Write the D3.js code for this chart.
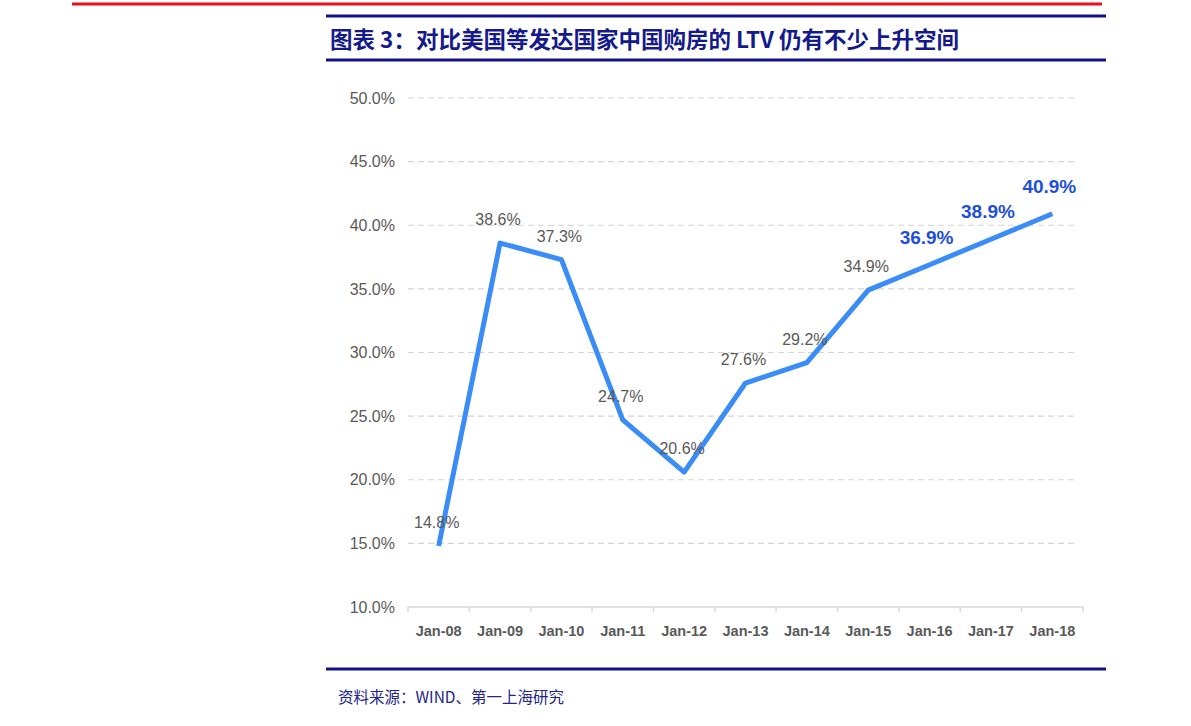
<!DOCTYPE html>
<html>
<head>
<meta charset="utf-8">
<script src="https://cdn.jsdelivr.net/npm/d3@7/dist/d3.min.js"></script>
<style>
  body { margin: 0; background: #fff; }
  svg { display: block; }
</style>
</head>
<body>
<svg id="chart"></svg>
<script>
// data
const categories = ["Jan-08", "Jan-09", "Jan-10", "Jan-11", "Jan-12", "Jan-13", "Jan-14", "Jan-15", "Jan-16", "Jan-17", "Jan-18"];
const ltvValues = [14.8, 38.6, 37.3, 24.7, 20.6, 27.6, 29.2, 34.9, 36.9, 38.9, 40.9];
const forecastFrom = "Jan-16"; // labels from here on are blue + bold
const yTicks = [10, 15, 20, 25, 30, 35, 40, 45, 50];

const titleText = "图表 3：对比美国等发达国家中国购房的 LTV 仍有不少上升空间";
const sourceText = "资料来源：WIND、第一上海研究";

const width = 1191;
const height = 726;
const margin = { top: 98, right: 108, bottom: 119, left: 408 };
const innerWidth = width - margin.left - margin.right;
const innerHeight = height - margin.top - margin.bottom;

const latin = "'Liberation Sans', Arial, sans-serif";
const cjk = "'Noto Sans CJK SC', 'Liberation Sans', sans-serif";

const svg = d3.select("#chart").attr("width", width).attr("height", height);

// header / footer rules
svg.append("line").attr("x1", 72).attr("x2", 1102).attr("y1", 4).attr("y2", 4)
  .attr("stroke", "#e8101f").attr("stroke-width", 3);
[16, 60, 669].forEach((y) => {
  svg.append("line").attr("x1", 326).attr("x2", 1106).attr("y1", y).attr("y2", y)
    .attr("stroke", "#10128a").attr("stroke-width", 3);
});

svg.append("text")
  .attr("x", 330).attr("y", 48)
  .attr("fill", "#141a8c")
  .style("font-family", cjk)
  .style("font-size", "22.5px")
  .style("font-weight", "bold")
  .text(titleText);

svg.append("text")
  .attr("x", 338).attr("y", 703)
  .attr("fill", "#23238a")
  .style("font-family", cjk)
  .style("font-size", "15.5px")
  .text(sourceText);

// scales
const xScale = d3.scaleBand().domain(categories).range([0, innerWidth]);
const yScale = d3.scaleLinear().domain([10, 50]).range([innerHeight, 0]);

const g = svg.append("g").attr("transform", `translate(${margin.left}, ${margin.top})`);

// grid
g.append("g")
  .selectAll("line")
  .data(yTicks.filter((t) => t > 10))
  .join("line")
  .attr("x1", 0).attr("x2", innerWidth - 6)
  .attr("y1", (d) => yScale(d)).attr("y2", (d) => yScale(d))
  .attr("stroke", "#d4d4d4")
  .attr("stroke-width", 1.2)
  .attr("stroke-dasharray", "6,4");

// y axis labels
const yAxis = d3.axisLeft(yScale).tickValues(yTicks)
  .tickFormat((d) => d.toFixed(1) + "%").tickSize(0).tickPadding(13);
const yAxisG = g.append("g").call(yAxis);
yAxisG.select(".domain").remove();
yAxisG.selectAll("text")
  .attr("fill", "#595959")
  .style("font-family", latin)
  .style("font-size", "16px");

// x axis
const xAxisG = g.append("g").attr("transform", `translate(0, ${innerHeight})`);
xAxisG.append("line").attr("x1", 0).attr("x2", innerWidth)
  .attr("stroke", "#d9d9d9").attr("stroke-width", 1.5);
xAxisG.selectAll(".tk")
  .data(categories.map((c) => xScale(c)).concat([innerWidth]))
  .join("line")
  .attr("class", "tk")
  .attr("x1", (d) => d).attr("x2", (d) => d)
  .attr("y1", 0).attr("y2", 5)
  .attr("stroke", "#d9d9d9").attr("stroke-width", 1.5);
xAxisG.selectAll(".lbl")
  .data(categories)
  .join("text")
  .attr("class", "lbl")
  .attr("x", (d) => xScale(d) + xScale.bandwidth() / 2)
  .attr("y", 29)
  .attr("text-anchor", "middle")
  .attr("fill", "#595959")
  .style("font-family", latin)
  .style("font-size", "14.5px")
  .style("font-weight", "bold")
  .text((d) => d);

// line
const points = categories.map((c, i) => ({ cat: c, value: ltvValues[i] }));
const lineGenerator = d3.line()
  .x((d) => xScale(d.cat) + xScale.bandwidth() / 2)
  .y((d) => yScale(d.value));

g.append("path")
  .datum(points)
  .attr("d", lineGenerator)
  .attr("fill", "none")
  .attr("stroke", "#3a8cf7")
  .attr("stroke-width", 5)
  .attr("stroke-linejoin", "round");

// value labels
const forecastIdx = categories.indexOf(forecastFrom);
g.selectAll(".val")
  .data(points)
  .join("text")
  .attr("class", "val")
  .attr("x", (d, i) => xScale(d.cat) + xScale.bandwidth() / 2 - (i >= forecastIdx ? 3 : 2))
  .attr("y", (d, i) => yScale(d.value) - (i >= forecastIdx ? 21 : 18))
  .attr("text-anchor", "middle")
  .attr("fill", (d, i) => (i >= forecastIdx ? "#1f4fd8" : "#595959"))
  .style("font-family", latin)
  .style("font-size", (d, i) => (i >= forecastIdx ? "19px" : "16px"))
  .style("font-weight", (d, i) => (i >= forecastIdx ? "bold" : "normal"))
  .text((d) => d.value.toFixed(1) + "%");
</script>
</body>
</html>
